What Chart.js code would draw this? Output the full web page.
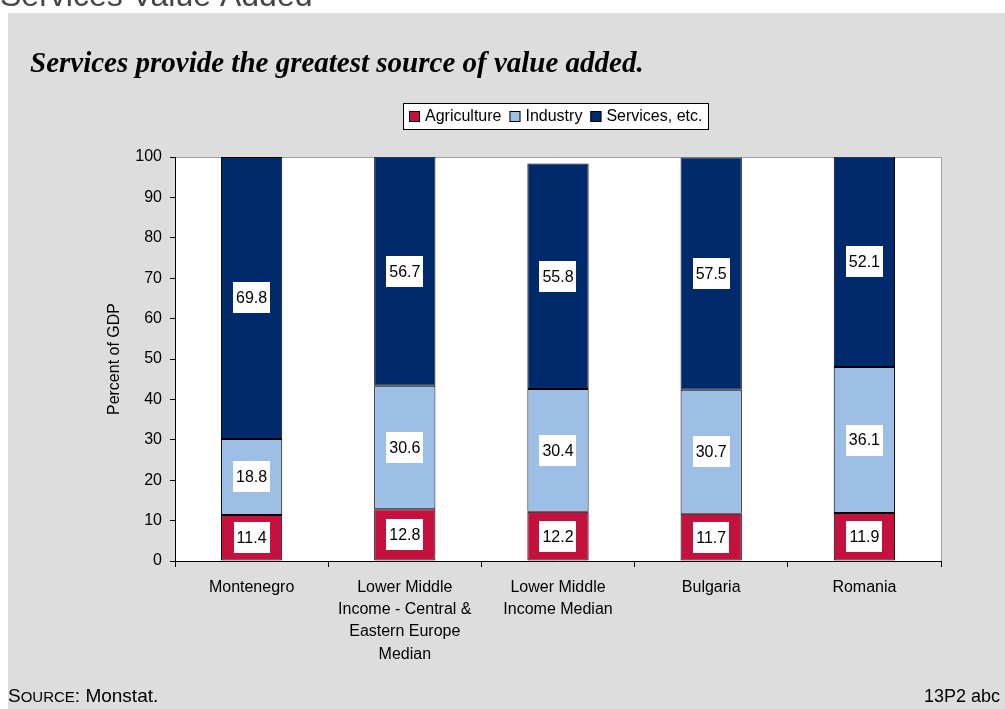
<!DOCTYPE html>
<html>
<head>
<meta charset="utf-8">
<script src="https://cdn.jsdelivr.net/npm/chart.js@4.4.0/dist/chart.umd.min.js"></script>
<style>
  html, body { margin: 0; padding: 0; background: #fff; }
  #wrap { position: relative; width: 1005px; height: 709px; }
</style>
</head>
<body>
<div id="wrap"><canvas id="grafico"></canvas></div>
<script>
// categorias (rótulos em várias linhas)
const categorias = [
  ['Montenegro'],
  ['Lower Middle', 'Income - Central &', 'Eastern Europe', 'Median'],
  ['Lower Middle', 'Income Median'],
  ['Bulgaria'],
  ['Romania']
];
const agricultura = [11.4, 12.8, 12.2, 11.7, 11.9];
const industria = [18.8, 30.6, 30.4, 30.7, 36.1];
const servicos = [69.8, 56.7, 55.8, 57.5, 52.1];
const nomesSeries = ['Agriculture', 'Industry', 'Services, etc.'];
const cores = ['#C5113D', '#9DBFE5', '#002A6B'];
const yMax = 100;
const yPasso = 10;

const FONTE = 'Arial, "Liberation Sans", sans-serif';
Chart.defaults.font.family = FONTE;
Chart.defaults.font.size = 16;
Chart.defaults.color = '#000';

// fundo cinza, títulos, área do gráfico
const fundo = {
  id: 'fundo',
  beforeDraw(chart) {
    const ctx = chart.ctx;
    const a = chart.chartArea;
    ctx.save();
    ctx.fillStyle = '#fff';
    ctx.fillRect(0, 0, chart.width, chart.height);
    ctx.fillStyle = '#DDDDDD';
    ctx.fillRect(8, 13, chart.width - 8, chart.height - 13);

    ctx.fillStyle = '#444';
    ctx.font = '32px ' + FONTE;
    ctx.textBaseline = 'alphabetic';
    ctx.fillText('Services Value Added', 0, 6);

    ctx.fillStyle = '#000';
    ctx.font = 'italic bold 29px "Times New Roman", "Liberation Serif", serif';
    ctx.fillText('Services provide the greatest source of value added.', 30, 72);

    ctx.fillStyle = '#fff';
    ctx.fillRect(a.left, a.top, a.right - a.left, a.bottom - a.top);
    ctx.strokeStyle = '#A0A0A0';
    ctx.lineWidth = 1;
    ctx.beginPath();
    ctx.moveTo(a.left, a.top + 0.5);
    ctx.lineTo(a.right + 0.5, a.top + 0.5);
    ctx.lineTo(a.right + 0.5, a.bottom);
    ctx.stroke();

    // fonte / rodapé
    ctx.fillStyle = '#000';
    let x = 8;
    const base = 702;
    ctx.font = '19px ' + FONTE;
    ctx.fillText('S', x, base);
    x += ctx.measureText('S').width;
    ctx.font = '15px ' + FONTE;
    ctx.fillText('OURCE', x, base);
    x += ctx.measureText('OURCE').width;
    ctx.font = '19px ' + FONTE;
    ctx.fillText(': Monstat.', x, base);
    ctx.textAlign = 'right';
    ctx.font = '18px ' + FONTE;
    ctx.fillText('13P2 abc', 1000, base);
    ctx.restore();
  },
  afterDatasetsDraw(chart) {
    // rótulos de valor em caixas brancas
    const ctx = chart.ctx;
    ctx.save();
    ctx.font = '16px ' + FONTE;
    ctx.textAlign = 'center';
    ctx.textBaseline = 'middle';
    chart.data.datasets.forEach((ds, i) => {
      chart.getDatasetMeta(i).data.forEach((bar, j) => {
        const txt = ds.data[j].toFixed(1);
        const w = ctx.measureText(txt).width + 6;
        const h = 31;
        const yc = (bar.y + bar.base) / 2;
        ctx.fillStyle = '#fff';
        ctx.fillRect(Math.round(bar.x - w / 2), Math.round(yc - h / 2), Math.round(w), h);
        ctx.fillStyle = '#000';
        ctx.fillText(txt, bar.x, yc + 1);
      });
    });
    ctx.restore();
  },
  afterDraw(chart) {
    // legenda com moldura
    const ctx = chart.ctx;
    ctx.save();
    ctx.font = '16px ' + FONTE;
    const q = 11, gapQ = 5, gapItem = 8, pad = 6;
    const larguras = chart.data.datasets.map(ds => ctx.measureText(ds.label).width);
    let total = pad * 2;
    larguras.forEach((w, i) => { total += q + gapQ + w + (i < larguras.length - 1 ? gapItem : 0); });
    total = Math.round(total);
    const top = 103, h = 26;
    const left = Math.round(555 - total / 2);
    ctx.fillStyle = '#fff';
    ctx.fillRect(left, top, total, h);
    ctx.strokeStyle = '#000';
    ctx.lineWidth = 1;
    ctx.strokeRect(left + 0.5, top + 0.5, total, h);
    let x = left + pad;
    const yc = top + h / 2;
    ctx.textBaseline = 'middle';
    chart.data.datasets.forEach((ds, i) => {
      ctx.fillStyle = ds.backgroundColor;
      ctx.fillRect(x, Math.round(yc - q / 2), q, q);
      ctx.strokeRect(x + 0.5, Math.round(yc - q / 2) + 0.5, q - 1, q - 1);
      x += q + gapQ;
      ctx.fillStyle = '#000';
      ctx.fillText(ds.label, x, yc + 1);
      x += larguras[i] + gapItem;
    });
    ctx.restore();
  }
};

const serie = (label, data, cor) => ({
  label,
  data,
  backgroundColor: cor,
  borderColor: '#000',
  borderWidth: 1,
  borderSkipped: false,
  barPercentage: 0.4,
  categoryPercentage: 1
});

new Chart(document.getElementById('grafico'), {
  type: 'bar',
  data: {
    labels: categorias,
    datasets: [
      serie(nomesSeries[0], agricultura, cores[0]),
      serie(nomesSeries[1], industria, cores[1]),
      serie(nomesSeries[2], servicos, cores[2])
    ]
  },
  options: {
    responsive: true,
    maintainAspectRatio: false,
    animation: false,
    layout: { padding: { left: 95, right: 64, top: 157, bottom: 38 } },
    plugins: { legend: { display: false }, tooltip: { enabled: false } },
    scales: {
      x: {
        stacked: true,
        afterFit: s => { s.height = 110; },
        grid: { drawOnChartArea: false, tickLength: 6, tickColor: '#000' },
        border: { color: '#000' },
        ticks: { maxRotation: 0, autoSkip: false, padding: 9, font: { size: 16, lineHeight: 1.4 } }
      },
      y: {
        stacked: true,
        min: 0,
        max: yMax,
        afterFit: s => { s.width = 80; },
        grid: { drawOnChartArea: false, tickLength: 5, tickColor: '#000' },
        border: { color: '#000' },
        ticks: { stepSize: yPasso, padding: 8, font: { size: 16 } },
        title: { display: true, text: 'Percent of GDP', font: { size: 16 }, padding: { top: 10 } }
      }
    }
  },
  plugins: [fundo]
});
</script>
</body>
</html>
